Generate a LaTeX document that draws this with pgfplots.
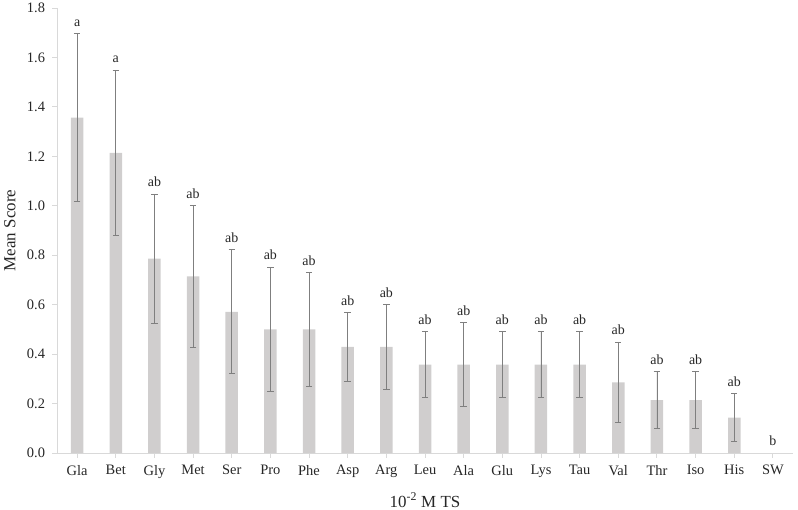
\documentclass[border=0pt]{standalone}
\usepackage{pgfplots}
\usepackage{pgfplotstable}
\pgfplotsset{compat=1.18}
\usepackage{fontspec}
\setmainfont{Liberation Serif}

\definecolor{barfill}{HTML}{D0CECE}
\definecolor{axisgray}{HTML}{D9D9D9}
\definecolor{errgray}{HTML}{7F7F7F}

% mean score, error, letter group
\pgfplotstableread{
x y e lab
0 1.357 0.340 a
1 1.214 0.335 a
2 0.786 0.262 ab
3 0.714 0.286 ab
4 0.571 0.251 ab
5 0.500 0.252 ab
6 0.500 0.229 ab
7 0.429 0.138 ab
8 0.429 0.173 ab
9 0.357 0.133 ab
10 0.357 0.170 ab
11 0.357 0.133 ab
12 0.357 0.133 ab
13 0.357 0.133 ab
14 0.286 0.163 ab
15 0.214 0.115 ab
16 0.214 0.115 ab
17 0.143 0.097 ab
18 0.000 0.000 b
}\scores

\begin{document}
\begin{tikzpicture}
\path[use as bounding box] (-57bp,-57bp) rectangle (741bp,453bp);
\begin{axis}[
    scale only axis,
    width=736bp, height=445bp,
    xmin=-0.52, xmax=18.52,
    ymin=0, ymax=1.8,
    ytick={0,0.2,...,1.8},
    xtick={0,...,18},
    xticklabels={Gla,Bet,Gly,Met,Ser,Pro,Phe,Asp,Arg,Leu,Ala,Glu,Lys,Tau,Val,Thr,Iso,His,SW},
    yticklabel style={/pgf/number format/fixed, /pgf/number format/fixed zerofill,
        /pgf/number format/precision=1, xshift=-4bp},
    /pgf/number format/assume math mode=true,
    tick label style={font=\fontsize{14.5}{16}\selectfont, text=black!85},
    axis lines*=left,
    axis line style={axisgray, line width=0.9bp},
    every tick/.style={axisgray, line width=0.9bp},
    tick align=outside,
    major tick length=4.5bp,
    xticklabel style={yshift=-4bp},
    xlabel={10\textsuperscript{-2} M TS},
    ylabel={Mean Score},
    label style={font=\fontsize{17}{19}\selectfont, text=black!85},
    xlabel style={at={(axis description cs:0.5,-0.106)}, anchor=center},
    ylabel style={at={(axis description cs:-0.064,0.5)}, anchor=center},
    clip=false,
]
\addplot[ybar, bar width=12.5bp, fill=barfill, draw=none,
    restrict x to domain=0:17,
    error bars/.cd, y dir=both, y explicit,
    error bar style={errgray, line width=0.8bp},
    error mark options={rotate=90, errgray, mark size=3.2bp, line width=0.8bp}]
    table[x=x, y=y, y error=e] {\scores};
\addplot[draw=none, mark=none, nodes near coords, point meta=explicit symbolic,
    every node near coord/.append style={font=\fontsize{14}{16}\selectfont, text=black!85, anchor=south, yshift=3.5bp}]
    table[x=x, y expr=\thisrow{y}+\thisrow{e}, meta=lab] {\scores};
\end{axis}
\end{tikzpicture}
\end{document}
